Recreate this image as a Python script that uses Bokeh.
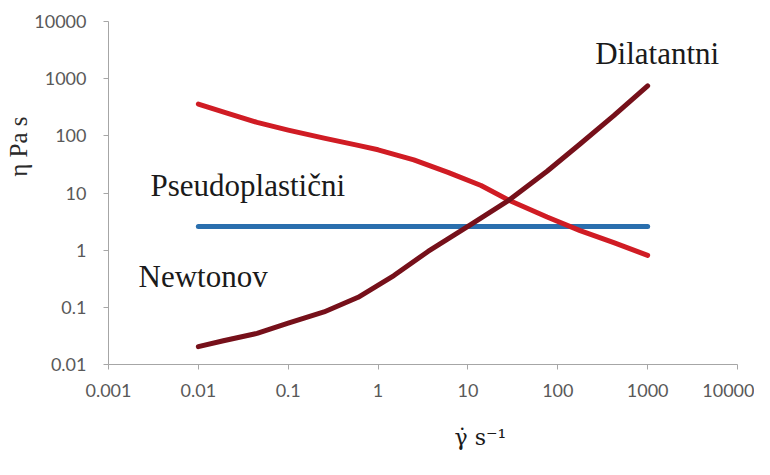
from bokeh.plotting import figure
from bokeh.models import FixedTicker, Label, Title
from bokeh.embed import file_html
from bokeh.resources import INLINE

# ---- data ----
x_pseudo = [0.01, 0.02, 0.045, 0.1, 0.25, 0.6, 1, 2.5, 6, 14, 29, 76, 177, 420, 1000]
eta_pseudo = [360, 255, 172, 126, 91, 68, 57, 38, 23, 13.5, 7.4, 3.8, 2.2, 1.35, 0.81]
x_dilat = [0.01, 0.019, 0.045, 0.1, 0.25, 0.6, 1.5, 3.6, 10, 29, 76, 177, 420, 1000]
eta_dilat = [0.0205, 0.026, 0.035, 0.053, 0.083, 0.15, 0.36, 0.95, 2.6, 7.6, 24, 72, 225, 750]
x_newton = [0.01, 1000]
eta_newton = [2.6, 2.6]

x_ticks = [0.001, 0.01, 0.1, 1, 10, 100, 1000, 10000]
x_tick_labels = ["0.001", "0.01", "0.1", "1", "10", "100", "1000", "10000"]
y_ticks = [0.01, 0.1, 1, 10, 100, 1000, 10000]
y_tick_labels = ["0.01", "0.1", "1", "10", "100", "1000", "10000"]

p = figure(width=754, height=459, x_axis_type="log", y_axis_type="log",
           x_range=(0.001, 10000), y_range=(0.01, 10000),
           output_backend="svg", toolbar_location=None,
           min_border_left=108, min_border_right=17,
           min_border_top=21, min_border_bottom=95)
p.outline_line_color = None
p.grid.visible = False
p.background_fill_color = "white"

for ax, ticks, labels in ((p.xaxis[0], x_ticks, x_tick_labels),
                          (p.yaxis[0], y_ticks, y_tick_labels)):
    ax.ticker = FixedTicker(ticks=ticks)
    ax.major_label_overrides = {t: l for t, l in zip(ticks, labels)}
    ax.minor_tick_line_color = None
    ax.major_tick_out = 5
    ax.major_tick_in = 0
    ax.axis_line_color = "#a6a6a6"
    ax.major_tick_line_color = "#a6a6a6"
    ax.major_label_text_font = "Lato"
    ax.major_label_text_font_size = "18px"
    ax.major_label_text_color = "#595959"
p.xaxis.major_label_standoff = 14
p.yaxis.major_label_standoff = 17

p.line(x_newton, eta_newton, line_color="#2a6fae", line_width=5, line_cap="round")
p.line(x_pseudo, eta_pseudo, line_color="#d01c24", line_width=5, line_cap="round", line_join="round")
p.line(x_dilat, eta_dilat, line_color="#76101a", line_width=5, line_cap="round", line_join="round")

serif = "Liberation Serif"
p.add_layout(Label(x=0.00293, y=13.8, text="Pseudoplastični", text_font=serif,
                   text_font_size="31px", text_color="#1a1a1a", text_baseline="alphabetic"))
p.add_layout(Label(x=0.00216, y=0.35, text="Newtonov", text_font=serif,
                   text_font_size="31px", text_color="#1a1a1a", text_baseline="alphabetic"))
p.add_layout(Label(x=261, y=2740, text="Dilatantni", text_font=serif,
                   text_font_size="31px", text_color="#1a1a1a", text_baseline="alphabetic"))

# axis titles (off-centre in the reference) as side titles
yt = Title(text="η Pa s", align="right", offset=95, text_font=serif,
           text_font_size="25px", text_font_style="normal", text_color="#2a2a2a", standoff=0)
p.add_layout(yt, "left")
# blank spacer between the x axis and its title
spacer = Title(text=" ", text_font_size="16px", standoff=4)
p.add_layout(spacer, "below")
xt = Title(text="γ̇ s⁻¹", align="left", offset=346, text_font="DejaVu Serif",
           text_font_size="22px", text_font_style="normal", text_color="#1a1a1a",
           standoff=0)
p.add_layout(xt, "below")

open("out.html", "w").write(file_html(p, INLINE))
